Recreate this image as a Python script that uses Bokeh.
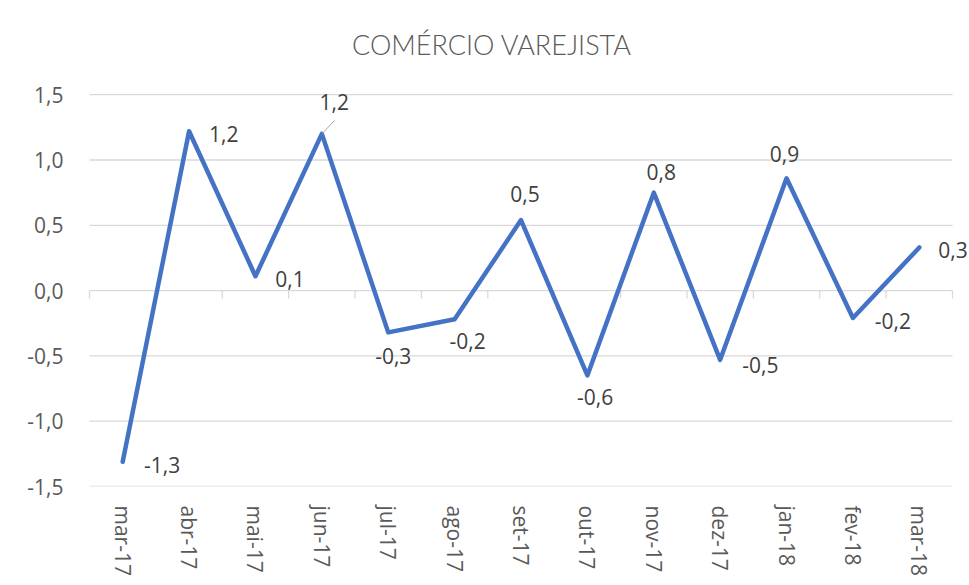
from bokeh.plotting import figure
from bokeh.models import (FactorRange, Range1d, FixedTicker, CustomJSTickFormatter,
                          ColumnDataSource, LabelSet, Label)
from bokeh.core.properties import value
from bokeh.embed import file_html
from bokeh.resources import INLINE

# ---------------- data ----------------
months = ["mar-17", "abr-17", "mai-17", "jun-17", "jul-17", "ago-17", "set-17",
          "out-17", "nov-17", "dez-17", "jan-18", "fev-18", "mar-18"]
values = [-1.31, 1.22, 0.11, 1.20, -0.32, -0.22, 0.54, -0.65, 0.75, -0.53, 0.86, -0.21, 0.33]
value_labels = ["-1,3", "1,2", "0,1", "1,2", "-0,3", "-0,2", "0,5", "-0,6", "0,8",
                "-0,5", "0,9", "-0,2", "0,3"]
y_ticks = [-1.5, -1.0, -0.5, 0.0, 0.5, 1.0, 1.5]
title_text = "COMÉRCIO VAREJISTA"

# ---------------- style ----------------
# data label offsets in pixels (dx to the right, dy downwards)
label_dx = [39.5, 34.7, 34.5, 12.5, 5.0, 13.0, 4.0, 7.7, 7.4, 40.3, -2.0, 40.0, 33.7]
label_dy = [3.0, 2.5, 2.5, -32.0, 24.0, 22.0, -26.0, 21.5, -21.0, 5.0, -24.0, 3.0, 2.0]
leader_idx = 3           # jun-17 label has a leader line
leader_px = (12.6, -13.4)

FONT = "Open Sans"
TITLE_FONT = "Lato Light"
AXIS_COLOR = "#595959"
LABEL_COLOR = "#404040"
GRID_COLOR = "#d9d9d9"
LINE_COLOR = "#4472C4"

W, H = 969, 585
PLOT_W = 863            # width of the category area in px
PAD_PX = 17             # extra frame on each side (room for edge labels)
FRAME_LEFT = 72
FRAME_BOTTOM = 486      # px from top of canvas
PX_PER_Y = 130.6        # px per unit on the value axis
TITLE_BASELINE_PX = 44
TITLE_SHIFT_PX = -29

n = len(months)
px_per_x = PLOT_W / n
frame_w = PLOT_W + 2 * PAD_PX
y_lo = y_ticks[0]
y_hi = y_lo + FRAME_BOTTOM / PX_PER_Y

p = figure(x_range=FactorRange(*months, range_padding=PAD_PX / px_per_x,
                               range_padding_units="absolute"),
           y_range=Range1d(y_lo, y_hi),
           frame_width=frame_w, frame_height=FRAME_BOTTOM,
           min_border_left=FRAME_LEFT, min_border_right=W - FRAME_LEFT - frame_w,
           min_border_top=0, min_border_bottom=H - FRAME_BOTTOM,
           output_backend="svg", toolbar_location=None,
           background_fill_color="white", border_fill_color="white")
p.outline_line_color = None
p.xgrid.grid_line_color = None
p.ygrid.grid_line_color = None

# y axis
p.yaxis.ticker = FixedTicker(ticks=y_ticks)
p.yaxis.formatter = CustomJSTickFormatter(code="return tick.toFixed(1).replace('.', ',');")
p.yaxis.axis_line_color = None
p.yaxis.major_tick_line_color = None
p.yaxis.minor_tick_line_color = None
p.yaxis.major_tick_out = 0
p.yaxis.major_tick_in = 0
p.yaxis.major_label_standoff = 9
p.yaxis.major_label_text_font = FONT
p.yaxis.major_label_text_font_size = "21px"
p.yaxis.major_label_text_color = AXIS_COLOR

# x axis (labels at bottom)
p.xaxis.axis_line_color = None
p.xaxis.major_tick_line_color = None
p.xaxis.major_tick_out = 0
p.xaxis.major_tick_in = 0
p.xaxis.major_label_orientation = "vertical"
p.xaxis.major_label_standoff = 19
p.xaxis.major_label_text_font = FONT
p.xaxis.major_label_text_font_size = "21px"
p.xaxis.major_label_text_color = AXIS_COLOR

# horizontal grid lines over the category area
p.segment(x0=[0] * len(y_ticks), y0=y_ticks, x1=[n] * len(y_ticks), y1=y_ticks,
          line_color=GRID_COLOR, line_width=1.3)

# zero axis line with category boundary ticks
tick_len = 8 / PX_PER_Y
bounds = list(range(n + 1))
p.segment(x0=bounds, y0=[0] * (n + 1), x1=bounds, y1=[-tick_len] * (n + 1),
          line_color=GRID_COLOR, line_width=1.3)

# series line
p.line(x=months, y=values, line_color=LINE_COLOR, line_width=4.5,
       line_join="round", line_cap="round")

# leader line
lx0 = leader_idx + 0.5
ly0 = values[leader_idx]
p.segment(x0=[lx0], y0=[ly0], x1=[lx0 + leader_px[0] / px_per_x],
          y1=[ly0 - leader_px[1] / PX_PER_Y], line_color="#a6a6a6", line_width=1)

# data labels
src = ColumnDataSource(dict(x=months, y=values, text=value_labels,
                            dx=label_dx, ndy=[-d for d in label_dy]))
labels = LabelSet(x="x", y="y", text="text", source=src, x_offset="dx", y_offset="ndy",
                  text_align="center", text_baseline="middle",
                  text_font=value(FONT), text_font_size=value("21px"),
                  text_color=LABEL_COLOR)
p.add_layout(labels)

# title
title = Label(x=n / 2 + TITLE_SHIFT_PX / px_per_x, y=y_hi - TITLE_BASELINE_PX / PX_PER_Y,
              text=title_text, text_align="center", text_baseline="alphabetic",
              text_font=TITLE_FONT, text_font_size="27px", text_color=AXIS_COLOR)
p.add_layout(title)

open("out.html", "w").write(file_html(p, INLINE))
